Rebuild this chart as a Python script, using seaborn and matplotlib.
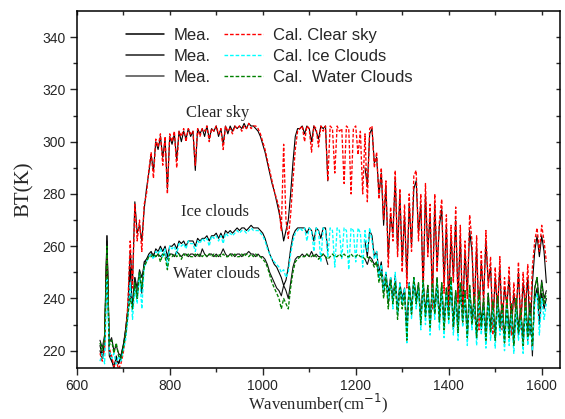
import numpy as np
import pandas as pd
import matplotlib
matplotlib.use("Agg")
import matplotlib.pyplot as plt
from matplotlib.lines import Line2D
import seaborn as sns

# wavenumber grid (cm-1), 650 ... 1610 step 5
wavenumber = np.arange(650, 1611, 5)
nan = np.nan

cal_clear = [
    219, 216, 221, 256, 221, 218, 214, 216, 213, 215,
    219, 226, 238, 262, 244, 276, 262, 270, 258, 276,
    280, 289, 296, 286, 301, 298, 303, 291, 302, 280,
    303, 300, 304, 290, 304, 302, 305, 300, 305, 303,
    304, 291, 305, 302, 305, 304, 306, 300, 305, 304,
    306, 303, 305, 297, 306, 304, 305, 303, 306, 305,
    306, 304, 306, 305, 307, 305, 306, 306, 305, 303,
    300, 297, 293, 289, 285, 281, 278, 275, 266, 299,
    270, 263, 272, 285, 297, 304, 305, 306, 300, 306,
    305, 296, 306, 305, 298, 306, 304, 306, 285, 306,
    305, 288, 306, 304, 305, 284, 306, 305, 280, 305,
    306, 295, 304, 280, 303, 277, 305, 306, 290, 296,
    278, 290, 270, 285, 252, 275, 262, 289, 256, 282,
    250, 276, 244, 280, 258, 287, 289, 262, 280, 240,
    284, 256, 276, 236, 280, 250, 270, 278, 242, 272,
    234, 268, 246, 275, 238, 268, 230, 262, 240, 272,
    262, 232, 264, 228, 258, 238, 266, 244, 256, 226,
    252, 234, 256, 228, 248, 236, 252, 226, 246, 232,
    254, 228, 250, 236, 253, 230, 252, 262, 267, 258,
    268, 262, 254]

mea_clear = [
    222, 218, 224, 264, 220, 217, 213, 218, 215, 217,
    221, 228, 236, 258, 246, 277, 265, 268, 262, 274,
    282, 288, 295, 289, 300, 297, 302, 294, 301, 282,
    302, 299, 303, 293, 304, 300, 304, 301, 305, 302,
    304, 289, 305, 303, 305, 302, 306, 301, 305, 304,
    306, 302, 305, 299, 306, 303, 306, 304, 306, 305,
    306, 305, 307, 305, 307, 306, 306, 305, 304, 302,
    299, 296, 292, 288, 284, 281, 277, 273, 268, 262,
    266, 270, 280, 292, 302, 305, 305, 306, 303, 306,
    305, 300, 306, 304, 301, 306, 305, 306, 285, nan,
    nan, nan, nan, nan, nan, nan, nan, nan, nan, nan,
    nan, nan, nan, nan, 290, 283, 303, 305, 292, 294,
    280, 288, 268, 283, 256, 272, 265, 286, 258, 280,
    254, 272, 248, 276, 260, 282, 285, 265, 276, 244,
    280, 258, 272, 240, 276, 252, 268, 274, 246, 268,
    238, 264, 248, 270, 240, 264, 234, 258, 242, 266,
    258, 236, 260, 232, 254, 240, 262, 246, 252, 230,
    248, 236, 252, 230, 244, 238, 248, 229, 242, 234,
    250, 230, 246, 236, 248, 226, 246, 258, 264, 256,
    264, 258, 246]

cal_ice = [
    216, 219, 215, 248, 220, 217, 219, 215, 218, 216,
    220, 224, 232, 246, 232, 244, 238, 250, 236, 252,
    254, 256, 257, 255, 258, 257, 259, 256, 259, 252,
    260, 259, 260, 257, 261, 260, 261, 259, 262, 261,
    261, 258, 262, 261, 263, 262, 263, 260, 264, 263,
    264, 262, 264, 261, 265, 264, 265, 264, 265, 266,
    265, 266, 266, 265, 266, 267, 266, 266, 266, 265,
    264, 262, 259, 257, 255, 254, 253, 252, 250, 251,
    248, 250, 257, 262, 265, 266, 267, 266, 267, 262,
    267, 266, 258, 267, 266, 254, 267, 266, 256, 267,
    266, 252, 267, 266, 255, 267, 266, 251, 267, 266,
    254, 267, 265, 252, 266, 258, 267, 262, 255, 258,
    248, 253, 243, 250, 240, 248, 236, 250, 234, 246,
    238, 244, 223, 246, 232, 248, 236, 244, 228, 246,
    230, 242, 226, 244, 232, 246, 228, 244, 225, 242,
    230, 246, 226, 240, 224, 244, 229, 240, 222, 242,
    228, 238, 222, 240, 226, 236, 221, 238, 224, 236,
    221, 238, 226, 234, 220, 236, 222, 234, 219, 236,
    224, 232, 219, 236, 222, 234, 220, 238, 242, 226,
    240, 232, 238]

mea_ice = [
    220, 217, 222, 262, 218, 216, 214, 217, 215, 218,
    222, 226, 234, 252, 236, 248, 240, 250, 242, 254,
    255, 257, 258, 256, 259, 258, 260, 258, 260, 256,
    260, 260, 261, 259, 262, 261, 262, 260, 262, 262,
    262, 260, 263, 262, 263, 263, 264, 262, 264, 264,
    265, 263, 265, 263, 266, 265, 266, 265, 266, 267,
    266, 267, 267, 266, 267, 268, 267, 267, 267, 266,
    265, 263, 260, 257, 255, 253, 252, 250, 248, 245,
    247, 252, 259, 264, 266, 267, 267, 267, 267, 265,
    267, 266, 262, 267, 266, 263, 267, 267, 258, nan,
    nan, nan, nan, nan, nan, nan, nan, nan, nan, nan,
    nan, nan, nan, nan, 262, 256, 266, 264, 256, 258,
    250, 254, 244, 250, 242, 248, 238, 249, 236, 246,
    240, 244, 228, 246, 234, 247, 238, 244, 231, 245,
    233, 242, 229, 244, 234, 245, 231, 243, 228, 242,
    233, 245, 228, 241, 227, 243, 231, 240, 225, 241,
    230, 238, 225, 240, 228, 236, 224, 238, 227, 236,
    224, 238, 228, 234, 223, 236, 225, 234, 222, 235,
    226, 232, 222, 236, 224, 234, 222, 240, 244, 230,
    242, 236, 240]

cal_water = [
    223, 220, 225, 260, 222, 224, 219, 223, 218, 217,
    221, 226, 234, 240, 236, 246, 240, 250, 244, 252,
    254, 256, 256, 257, 256, 257, 254, 257, 256, 251,
    257, 256, 257, 256, 257, 255, 257, 256, 257, 256,
    256, 257, 256, 257, 256, 257, 256, 257, 256, 257,
    256, 257, 256, 257, 256, 256, 257, 256, 257, 256,
    256, 257, 256, 257, 256, 257, 256, 257, 256, 256,
    255, 254, 252, 249, 246, 244, 242, 240, 236, 240,
    238, 236, 244, 250, 254, 255, 256, 256, 256, 257,
    256, 256, 257, 256, 255, 256, 257, 256, 255, 256,
    257, 256, 256, 257, 256, 257, 256, 256, 257, 256,
    256, 257, 256, 256, 255, 256, 255, 254, 252, 254,
    246, 250, 240, 248, 236, 247, 238, 246, 232, 244,
    236, 242, 224, 245, 234, 248, 238, 246, 230, 247,
    233, 245, 229, 246, 234, 248, 231, 246, 228, 244,
    232, 248, 229, 243, 227, 246, 231, 243, 225, 245,
    230, 241, 225, 243, 229, 240, 224, 242, 227, 239,
    224, 241, 229, 238, 223, 240, 225, 238, 222, 240,
    227, 236, 222, 240, 225, 238, 222, 244, 248, 236,
    246, 238, 242]

mea_water = [
    224, 221, 226, 264, 223, 225, 220, 222, 219, 218,
    222, 228, 236, 242, 238, 248, 244, 251, 248, 253,
    255, 256, 257, 257, 256, 257, 256, 257, 257, 255,
    257, 257, 256, 258, 257, 256, 257, 257, 256, 257,
    257, 256, 257, 256, 259, 257, 256, 257, 257, 256,
    257, 256, 257, 259, 257, 256, 257, 257, 256, 257,
    257, 256, 257, 257, 258, 257, 257, 256, 257, 256,
    256, 255, 253, 250, 248, 246, 244, 243, 241, 245,
    243, 240, 246, 252, 255, 256, 256, 257, 256, 257,
    256, 258, 256, 257, 256, 256, 257, 256, 253, nan,
    nan, nan, nan, nan, nan, nan, nan, nan, nan, nan,
    nan, nan, nan, nan, 255, 253, 256, 255, 253, 254,
    248, 251, 242, 249, 238, 248, 240, 247, 234, 245,
    238, 243, 227, 246, 236, 248, 240, 246, 232, 247,
    235, 245, 231, 246, 236, 248, 233, 246, 230, 244,
    234, 248, 231, 243, 229, 246, 233, 243, 227, 245,
    232, 241, 227, 243, 231, 240, 226, 242, 229, 239,
    226, 241, 231, 238, 225, 240, 227, 238, 224, 240,
    229, 236, 224, 240, 227, 238, 218, 244, 248, 238,
    247, 240, 243]

annotations = [("Clear sky", 904, 311), ("Ice clouds", 897, 273), ("Water clouds", 901, 249.5)]

legend_mea = ["Mea.", "Mea.", "Mea."]
legend_cal = ["Cal. Clear sky", "Cal. Ice Clouds", "Cal.  Water Clouds"]

sns.set_style("white")
plt.rcParams['font.family'] = ['Liberation Sans', 'DejaVu Sans']

fig = plt.figure(figsize=(5.65, 4.19), dpi=100)
ax = fig.add_axes([0.1358, 0.1224, 0.8559, 0.8513])


def frame(values):
    v = np.asarray(values, dtype=float)
    seg = np.cumsum(np.isnan(v))
    return pd.DataFrame({"wn": wavenumber, "bt": v, "seg": seg}).dropna()


dash = (0, (2.6, 1.4))
mea_colors = ["#000000", "#1e1e1e", "#4a4a4a"]
cal_colors = ["#ff0000", "#00ffff", "#008000"]

series = [
    (mea_clear, "#000000", "-", 0.8),
    (mea_ice, "#000000", "-", 0.8),
    (mea_water, "#111111", "-", 0.8),
    (cal_clear, cal_colors[0], dash, 0.95),
    (cal_ice, cal_colors[1], dash, 0.95),
    (cal_water, cal_colors[2], dash, 0.95),
]
for vals, col, ls, lw in series:
    df = frame(vals)
    sns.lineplot(data=df, x="wn", y="bt", units="seg", estimator=None, sort=False,
                 color=col, linestyle=ls, linewidth=lw, ax=ax, legend=False)

ax.set_xlim(600, 1640)
ax.set_ylim(213.5, 350)
ax.set_xticks(np.arange(600, 1601, 200))
ax.set_xticks(np.arange(600, 1641, 100), minor=True)
ax.set_yticks(np.arange(220, 341, 20))
ax.set_yticks(np.arange(220, 350, 10), minor=True)
ax.tick_params(axis="both", which="major", direction="out", length=5, width=1,
               labelsize=10, pad=3, bottom=True, left=True)
ax.tick_params(axis="both", which="minor", direction="out", length=3, width=1,
               bottom=True, left=True)

for side in ["top", "right", "bottom", "left"]:
    ax.spines[side].set_visible(True)
    ax.spines[side].set_linewidth(1.1)
    ax.spines[side].set_color("black")

secx = ax.secondary_xaxis("top")
secx.set_xticks(np.arange(600, 1641, 100))
secx.tick_params(direction="in", length=3, width=1, labeltop=False)
secx.spines["top"].set_visible(False)
secy = ax.secondary_yaxis("right")
secy.set_yticks(np.arange(220, 350, 10))
secy.tick_params(direction="in", length=3, width=1, labelright=False)
secy.spines["right"].set_visible(False)

serif = ['Liberation Serif', 'DejaVu Serif']
ax.set_xlabel("Wavenumber(cm$^{-1}$)", family=serif, fontsize=12, labelpad=-1)
ax.set_ylabel("BT(K)", family=serif, fontsize=15, labelpad=6)

for txt, x, y in annotations:
    ax.text(x, y, txt, family=serif, fontsize=12, ha="center", va="center")

handles = [Line2D([], [], color=c, lw=1.1) for c in mea_colors] + \
          [Line2D([], [], color=c, lw=1.0, linestyle=dash) for c in cal_colors]
labels = legend_mea + legend_cal
ax.legend(handles, labels, ncol=2, frameon=False, fontsize=12,
          loc="upper left", bbox_to_anchor=(114 / 565, 1 - 16 / 419),
          bbox_transform=fig.transFigure, handlelength=2.3, handletextpad=0.6,
          columnspacing=0.8, labelspacing=0.38, borderpad=0.2)

fig.savefig("out.png", dpi=100)
